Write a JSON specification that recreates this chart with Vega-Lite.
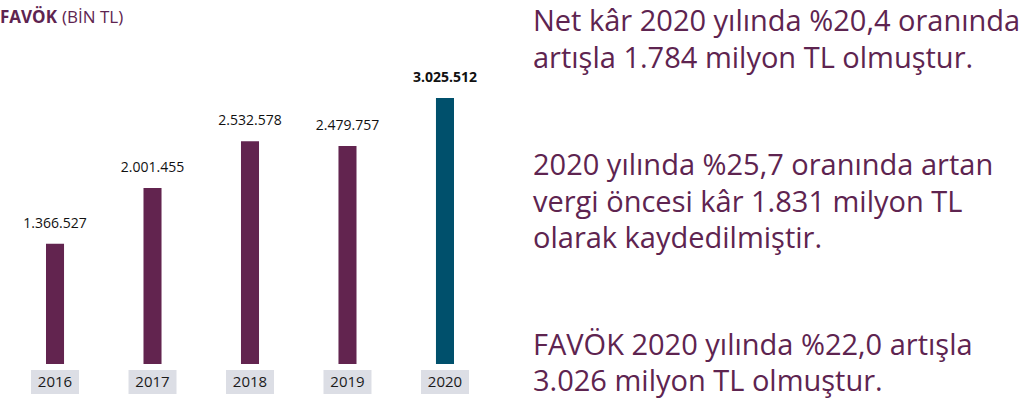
{
  "$schema": "https://vega.github.io/schema/vega-lite/v6.json",
  "padding": 0,
  "spacing": 33,
  "config": {
    "view": {"stroke": null},
    "font": "Open Sans",
    "locale": {"number": {"decimal": ",", "thousands": ".", "grouping": [3], "currency": ["", " TL"]}}
  },
  "hconcat": [
    {
      "width": 500,
      "height": 404,
      "resolve": {"scale": {"x": "independent"}},
      "layer": [
        {
          "data": {
            "values": [
              {"year": "2016", "value": 1366527},
              {"year": "2017", "value": 2001455},
              {"year": "2018", "value": 2532578},
              {"year": "2019", "value": 2479757},
              {"year": "2020", "value": 3025512}
            ]
          },
          "encoding": {
            "x": {
              "field": "year",
              "type": "nominal",
              "axis": null,
              "scale": {"paddingInner": 0.815, "paddingOuter": 0.4718}
            }
          },
          "layer": [
            {
              "mark": {"type": "bar"},
              "encoding": {
                "y": {
                  "field": "value",
                  "type": "quantitative",
                  "axis": null,
                  "scale": {"domain": [-454964, 4140150], "nice": false, "zero": false}
                },
                "color": {
                  "condition": {"test": "datum.year === '2020'", "value": "#00506c"},
                  "value": "#62244f"
                }
              }
            },
            {
              "transform": [{"filter": "datum.year !== '2020'"}],
              "mark": {"type": "text", "baseline": "middle", "dy": -20, "fontSize": 14, "color": "#111111"},
              "encoding": {
                "y": {"field": "value", "type": "quantitative"},
                "text": {"field": "value", "type": "quantitative", "format": ",d"}
              }
            },
            {
              "transform": [{"filter": "datum.year === '2020'"}],
              "mark": {"type": "text", "baseline": "middle", "dy": -20, "fontSize": 14, "fontWeight": "bold", "color": "#111111"},
              "encoding": {
                "y": {"field": "value", "type": "quantitative"},
                "text": {"field": "value", "type": "quantitative", "format": ",d"}
              }
            },
            {
              "mark": {"type": "rect", "width": 48, "color": "#dcdee5"},
              "encoding": {
                "y": {"datum": -68245},
                "y2": {"datum": -341222}
              }
            },
            {
              "mark": {"type": "text", "baseline": "middle", "fontSize": 15, "color": "#1a1a1a"},
              "encoding": {
                "y": {"datum": -204700},
                "text": {"field": "year", "type": "nominal"}
              }
            }
          ]
        },
        {
          "data": {"values": [{"bold": "FAVÖK", "normal": "(BİN TL)"}]},
          "encoding": {
            "x": {"datum": 0, "type": "quantitative", "axis": null, "scale": {"domain": [0, 1]}},
            "y": {"datum": 3935420, "type": "quantitative"}
          },
          "layer": [
            {
              "mark": {"type": "text", "align": "left", "baseline": "middle", "fontSize": 17, "fontWeight": "bold", "color": "#5e2450"},
              "encoding": {"text": {"field": "bold"}}
            },
            {
              "mark": {"type": "text", "align": "left", "baseline": "middle", "dx": 62, "fontSize": 17, "color": "#5e2450"},
              "encoding": {"text": {"field": "normal"}}
            }
          ]
        }
      ]
    },
    {
      "width": 502,
      "height": 404,
      "data": {
        "values": [
          {"para": 1, "lines": ["Net kâr 2020 yılında %20,4 oranında", "artışla 1.784 milyon TL olmuştur."]},
          {"para": 2, "lines": ["2020 yılında %25,7 oranında artan", "vergi öncesi kâr 1.831 milyon TL", "olarak kaydedilmiştir."]},
          {"para": 3, "lines": ["FAVÖK 2020 yılında %22,0 artışla", "3.026 milyon TL olmuştur."]}
        ]
      },
      "encoding": {
        "x": {"datum": 0, "type": "quantitative", "axis": null, "scale": {"domain": [0, 1]}},
        "y": {"field": "para", "type": "ordinal", "axis": null, "scale": {"type": "point", "padding": 0.2484}},
        "text": {"field": "lines"}
      },
      "layer": [
        {
          "transform": [{"filter": "length(datum.lines) === 2"}],
          "mark": {"type": "text", "align": "left", "baseline": "middle", "dy": -18, "fontSize": 29, "lineHeight": 36.5, "color": "#5e2450"}
        },
        {
          "transform": [{"filter": "length(datum.lines) === 3"}],
          "mark": {"type": "text", "align": "left", "baseline": "middle", "dy": -36, "fontSize": 29, "lineHeight": 36.5, "color": "#5e2450"}
        }
      ]
    }
  ]
}
